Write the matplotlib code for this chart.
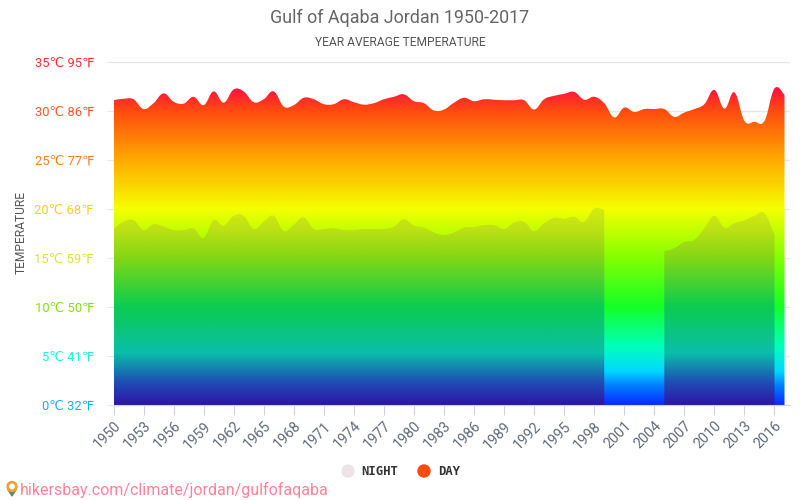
import numpy as np
import matplotlib
matplotlib.use("Agg")
import matplotlib.pyplot as plt
from matplotlib.colors import LinearSegmentedColormap
from matplotlib.patches import Circle, PathPatch, Polygon
from matplotlib.path import Path

plt.rcParams["font.family"] = ["Roboto", "DejaVu Sans"]

# ── Data ───────────────────────────────────────────────────────────────────────
years = list(range(1950, 2018))
day = [31.1, 31.25, 31.2, 30.2, 30.8, 31.8, 30.95, 30.75, 31.45, 30.6,
       32.0, 30.85, 32.2, 32.0, 30.9, 31.2, 32.0, 30.45, 30.6, 31.35,
       31.2, 30.7, 30.7, 31.2, 30.9, 30.65, 30.8, 31.2, 31.45, 31.7,
       31.0, 30.8, 30.05, 30.15, 30.85, 31.35, 31.0, 31.2, 31.15, 31.1,
       31.1, 31.1, 30.15, 31.2, 31.55, 31.75, 31.95, 31.15, 31.45, 30.8,
       29.35, 30.35, 29.9, 30.2, 30.2, 30.2, 29.4, 29.85, 30.2, 30.7,
       32.15, 30.25, 31.9, 29.0, 28.9, 29.0, 32.3, 31.65]
night = [17.95, 18.7, 18.85, 17.85, 18.45, 18.2, 17.85, 17.85, 18.0, 17.05,
         18.85, 18.3, 19.3, 19.3, 17.95, 18.7, 19.3, 17.75, 18.4, 19.15,
         17.95, 17.95, 18.05, 17.85, 17.85, 17.95, 17.95, 17.95, 18.2, 18.95,
         18.3, 18.1, 17.6, 17.35, 17.6, 18.1, 18.15, 18.35, 18.35, 17.95,
         18.6, 18.7, 17.75, 18.55, 19.1, 19.0, 19.2, 18.7, 20.05, 19.9,
         None, None, None, None, None, 15.7, 16.0, 16.65, 16.85, 18.05,
         19.3, 18.1, 18.55, 18.85, 19.3, 19.55, 17.35, None]
year_ticks = list(range(1950, 2017, 3))
temp_ticks = [0, 5, 10, 15, 20, 25, 30, 35]
temp_labels = ["0℃ 32℉", "5℃ 41℉", "10℃ 50℉", "15℃ 59℉",
               "20℃ 68℉", "25℃ 77℉", "30℃ 86℉", "35℃ 95℉"]
label_colors = ["#10b4f4", "#22efd8", "#84e012", "#dde232",
                "#fbcf1c", "#ff7d22", "#ff5232", "#ff2a32"]

# colour ramps, positions in degrees
day_stops = [(0, (10, 40, 255)), (2, (0, 130, 255)), (3.4, (0, 215, 255)),
             (5.9, (0, 255, 190)), (10, (20, 255, 40)), (15, (130, 255, 0)),
             (20, (245, 255, 0)), (25, (255, 170, 0)), (30, (255, 75, 15)),
             (32.4, (255, 15, 65))]
night_stops = [(0, (45, 20, 170)), (2.4, (30, 80, 180)), (5.3, (10, 190, 170)),
               (10, (10, 205, 80)), (15, (130, 215, 20)), (18, (190, 225, 20)),
               (21, (225, 240, 15))]


def make_cmap(stops):
    top = stops[-1][0]
    return LinearSegmentedColormap.from_list(
        "ramp", [(t / top, tuple(c / 255 for c in rgb)) for t, rgb in stops], N=512)


def area_path(xs, ys):
    # spline through the points, closed down to zero, one piece per run of values
    verts, codes = [], []
    run = []
    for x, y in list(zip(xs, ys)) + [(None, None)]:
        if y is not None:
            run.append((x, y))
            continue
        if run:
            verts.append((run[0][0], 0)); codes.append(Path.MOVETO)
            verts.append(run[0]); codes.append(Path.LINETO)
            for i in range(len(run) - 1):
                p0 = run[max(i - 1, 0)]
                p1, p2 = run[i], run[i + 1]
                p3 = run[min(i + 2, len(run) - 1)]
                c1 = (p1[0] + (p2[0] - p0[0]) / 5, p1[1] + (p2[1] - p0[1]) / 5)
                c2 = (p2[0] - (p3[0] - p1[0]) / 5, p2[1] - (p3[1] - p1[1]) / 5)
                verts += [c1, c2, p2]
                codes += [Path.CURVE4] * 3
            verts.append((run[-1][0], 0)); codes.append(Path.LINETO)
            verts.append((run[0][0], 0)); codes.append(Path.CLOSEPOLY)
        run = []
    return Path(verts, codes)


def gradient_area(ax, xs, ys, stops, zorder):
    top = stops[-1][0]
    ramp = np.linspace(0, 1, 512).reshape(-1, 1)
    im = ax.imshow(ramp, origin="lower", aspect="auto", cmap=make_cmap(stops),
                   extent=(xs[0], xs[-1], 0, top), zorder=zorder,
                   interpolation="bilinear")
    im.set_clip_path(PathPatch(area_path(xs, ys), transform=ax.transData))


fig = plt.figure(figsize=(8, 5), dpi=100)
ax = fig.add_axes([113.5 / 800, (500 - 405) / 500, (790 - 113.5) / 800, 343 / 500])

gradient_area(ax, years, day, day_stops, 2)
gradient_area(ax, years, night, night_stops, 3)

ax.set_xlim(1950, 1950 + (790 - 113.5) / 10.015)
ax.set_ylim(0, 35)

ax.set_yticks(temp_ticks)
ax.set_yticklabels(temp_labels, fontsize=9.4)
for lab, col in zip(ax.get_yticklabels(), label_colors):
    lab.set_color(col)
ax.set_xticks(year_ticks)
ax.set_xticklabels(year_ticks, rotation=45, ha="right", rotation_mode="anchor",
                   fontsize=10.3, color="#606a78")
ax.grid(axis="y", color="#e6e6e6", linewidth=1, zorder=1)
ax.set_axisbelow(True)
ax.tick_params(axis="y", length=5, color="#e6e6e6", pad=9)
ax.tick_params(axis="x", length=7, color="#ccd6eb", pad=3)
for side in ("top", "right", "left"):
    ax.spines[side].set_visible(False)
ax.spines["bottom"].set_color("#ccd6eb")
ax.spines["bottom"].set_zorder(5)

fig.text(400 / 800, 1 - 18 / 500, "Gulf of Aqaba Jordan 1950-2017", ha="center", va="center",
         fontsize=12.9, color="#666666")
fig.text(400 / 800, 1 - 42 / 500, "YEAR AVERAGE TEMPERATURE", ha="center", va="center",
         fontsize=8.65, color="#555555")
fig.text(21 / 800, 1 - 233 / 500, "TEMPERATURE", rotation=90, ha="center", va="center",
         fontsize=8.65, color="#555555")

# legend and watermark are placed in pixels on a full-figure overlay
over = fig.add_axes([0, 0, 1, 1], facecolor="none")
over.set_xlim(0, 800)
over.set_ylim(500, 0)
over.axis("off")
over.add_patch(Circle((348, 471), 6, color="#ece4e6"))
over.add_patch(Circle((424, 471), 6, color="#ff4a10"))
over.text(361, 471.5, "NIGHT", family="DejaVu Sans Mono", fontweight="bold", fontsize=8.8,
          color="#333333", va="center")
over.text(438, 471.5, "DAY", family="DejaVu Sans Mono", fontweight="bold", fontsize=8.8,
          color="#333333", va="center")
over.text(20, 489.5, "hikersbay.com/climate/jordan/gulfofaqaba", fontsize=11.55,
          color="#ff8298", va="center")
over.add_patch(Polygon([(7.5, 489), (16.5, 489), (12, 496)], color="#5c8a78"))
over.add_patch(Circle((12, 486.5), 5, color="#f5a030"))
over.add_patch(Circle((12, 486.5), 2.2, color="white"))

fig.savefig("out.png", dpi=100)
